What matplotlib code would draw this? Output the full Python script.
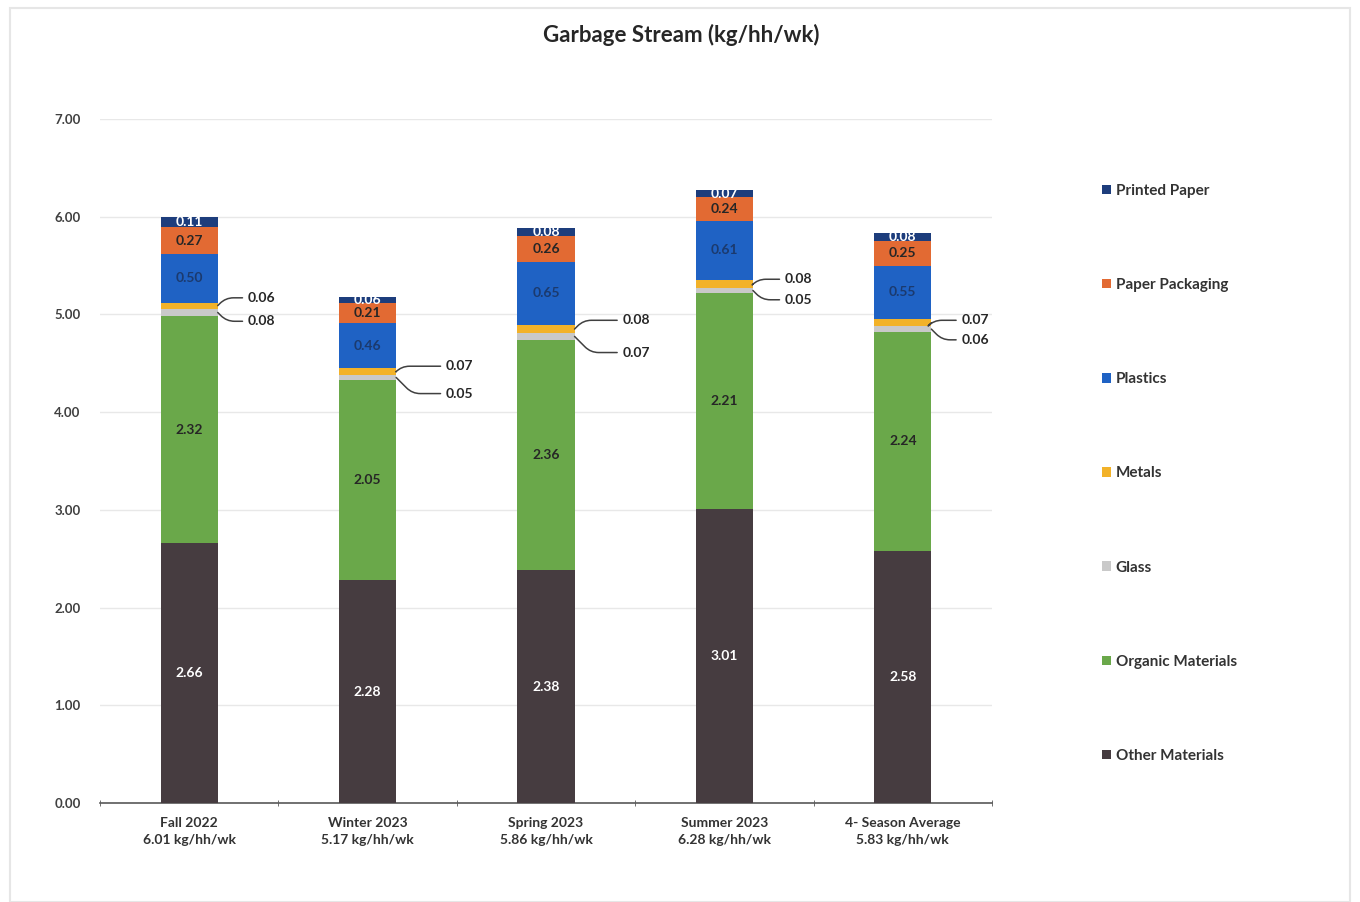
import matplotlib
matplotlib.use("Agg")
import matplotlib.pyplot as plt
from matplotlib.patches import Rectangle, Patch
import numpy as np

plt.rcParams['font.family'] = ['Lato', 'DejaVu Sans']

# ---- data (kg per household per week) ----
seasons = ["Fall 2022", "Winter 2023", "Spring 2023", "Summer 2023", "4- Season Average"]
season_totals = [6.01, 5.17, 5.86, 6.28, 5.83]

other_materials = [2.66, 2.28, 2.38, 3.01, 2.58]
organic_materials = [2.32, 2.05, 2.36, 2.21, 2.24]
glass = [0.08, 0.05, 0.07, 0.05, 0.06]
metals = [0.06, 0.07, 0.08, 0.08, 0.07]
plastics = [0.50, 0.46, 0.65, 0.61, 0.55]
paper_packaging = [0.27, 0.21, 0.26, 0.24, 0.25]
printed_paper = [0.11, 0.06, 0.08, 0.07, 0.08]

y_ticks = [0, 1, 2, 3, 4, 5, 6, 7]

# ---- styling ----
layers = [
    ("Other Materials", other_materials, "#463c40", "white", True),
    ("Organic Materials", organic_materials, "#6aa84a", "#262626", True),
    ("Glass", glass, "#c9c9c9", None, False),
    ("Metals", metals, "#f2b229", None, False),
    ("Plastics", plastics, "#1f62c4", "#1b3a6e", True),
    ("Paper Packaging", paper_packaging, "#e26a33", "#262626", True),
    ("Printed Paper", printed_paper, "#1d3d7c", "white", True),
]

fig = plt.figure(figsize=(13.6, 9.02), dpi=100)
fig.patch.set_facecolor("white")

# outer frame
fig.patches.append(Rectangle((10 / 1360, 0.0), 1340 / 1360, 1 - 8 / 902,
                             transform=fig.transFigure, fill=False,
                             edgecolor="#e6e6e6", linewidth=1.5))

ax = fig.add_axes([100 / 1360, 1 - 803 / 902, 892 / 1360, (803 - 119) / 902])

x = np.arange(len(seasons))
bar_w = 0.32
bottom = np.zeros(len(seasons))
bars_by_name = {}
for name, vals, color, txtcol, inside in layers:
    vals = np.array(vals)
    bars = ax.bar(x, vals, bar_w, bottom=bottom, color=color, label=name,
                  edgecolor="none", zorder=3)
    bars_by_name[name] = (bars, bottom.copy(), vals)
    if inside:
        ax.bar_label(bars, labels=[f"{v:.2f}" for v in vals], label_type="center",
                     color=txtcol, fontsize=10, fontweight="bold")
    bottom = bottom + vals

# leader-line labels for the thin metals and glass layers
metal_label_pos = [(0.33, 5.17), (0.44, 4.47), (0.43, 4.94), (0.34, 5.36), (0.33, 4.94)]
glass_label_pos = [(0.33, 4.93), (0.44, 4.19), (0.43, 4.61), (0.34, 5.15), (0.33, 4.74)]

for name, positions, angB in (("Metals", metal_label_pos, 45), ("Glass", glass_label_pos, -45)):
    bars, base, vals = bars_by_name[name]
    for i, (dx, ty) in enumerate(positions):
        ymid = base[i] + vals[i] / 2
        ax.annotate(f"{vals[i]:.2f}", xy=(x[i] + bar_w / 2, ymid), xytext=(x[i] + dx, ty),
                    ha="left", va="center", fontsize=10, fontweight="bold", color="#262626",
                    arrowprops=dict(arrowstyle="-", color="#404040", lw=1.1,
                                    shrinkA=2, shrinkB=0,
                                    connectionstyle=f"angle,angleA=0,angleB={angB},rad=8"),
                    zorder=4)

ax.set_xlim(-0.5, len(seasons) - 0.5)
ax.set_ylim(0, 7)
ax.set_yticks(y_ticks)
ax.set_yticklabels([f"{t:.2f}" for t in y_ticks], fontsize=9.5, color="#404040", fontweight="bold")
ax.yaxis.grid(True, color="#e8e8e8", linewidth=1, zorder=0)
ax.set_axisbelow(True)
ax.tick_params(axis="y", length=0, pad=14)

ax.set_xticks(x)
ax.set_xticklabels([f"{s}\n{t:.2f} kg/hh/wk" for s, t in zip(seasons, season_totals)],
                   fontsize=10, fontweight="bold", color="#333333", linespacing=1.5)
ax.tick_params(axis="x", length=0, pad=10)
# category boundary ticks
ax.set_xticks(np.arange(-0.5, len(seasons)), minor=True)
ax.tick_params(axis="x", which="minor", length=5, direction="inout", color="#595959")

for s in ("top", "right", "left"):
    ax.spines[s].set_visible(False)
ax.spines["bottom"].set_color("#595959")
ax.spines["bottom"].set_linewidth(1.2)

fig.text(681 / 1360, 1 - 35 / 902, "Garbage Stream (kg/hh/wk)", ha="center", va="center",
         fontsize=16, fontweight="bold", color="#262626")

handles = [Patch(facecolor=c, edgecolor="none", label=n) for n, _, c, _, _ in layers][::-1]
fig.legend(handles=handles, loc="upper left", bbox_to_anchor=(1088 / 1360, 1 - 170 / 902),
           frameon=False, labelspacing=5.25, handlelength=0.6,
           handleheight=0.6, handletextpad=0.3, prop={"weight": "bold", "size": 11},
           labelcolor="#333333")

fig.savefig("out.png", dpi=100, facecolor="white")
